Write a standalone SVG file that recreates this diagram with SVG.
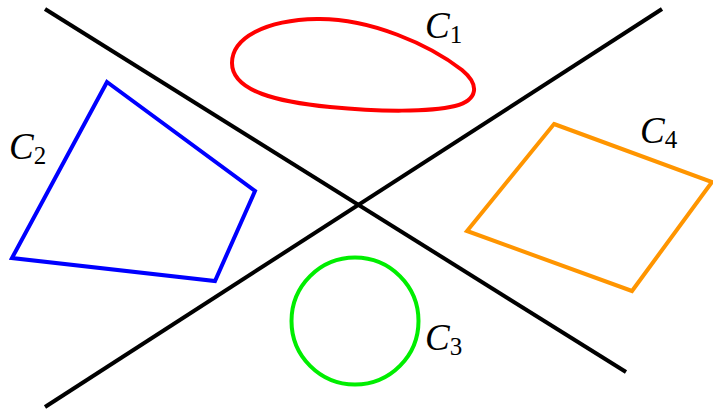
<svg xmlns="http://www.w3.org/2000/svg" width="713" height="412" viewBox="0 0 713 412">
<style>
.ln{stroke:#000;stroke-width:4;fill:none;stroke-linecap:butt}
.sh{stroke-width:4;fill:none;stroke-linejoin:miter}
.lbl{font-family:"Liberation Serif",serif;font-style:italic;font-size:37px;fill:#000}
.sub{font-family:"Liberation Serif",serif;font-style:normal;font-size:25px}
</style>
<rect width="713" height="412" fill="#fff"/>
<g id="lines">
<line class="ln" x1="45" y1="9" x2="626" y2="372"/>
<line class="ln" x1="45" y1="407" x2="662" y2="9"/>
</g>
<g id="C1">
<path class="sh" stroke="#ff0000" d="M232,63 C232,38 265,20 317,19 C370,18 430,45 462,70 C480,85 478,100 455,106 C430,112 380,112 330,107 C280,102 232,92 232,63 Z"/>
<text class="lbl" x="425" y="38">C<tspan class="sub" dy="5">1</tspan></text>
</g>
<g id="C2">
<polygon class="sh" stroke="#0000ff" points="107,82 255,191 215,281 12,258"/>
<text class="lbl" x="9" y="159">C<tspan class="sub" dy="5">2</tspan></text>
</g>
<g id="C3">
<circle class="sh" stroke="#00ee00" cx="355" cy="321" r="63.5"/>
<text class="lbl" x="425" y="350">C<tspan class="sub" dy="5">3</tspan></text>
</g>
<g id="C4">
<polygon class="sh" stroke="#ff9500" points="554,124 712,182 632,291 467,231"/>
<text class="lbl" x="640" y="143">C<tspan class="sub" dy="5">4</tspan></text>
</g>
</svg>
